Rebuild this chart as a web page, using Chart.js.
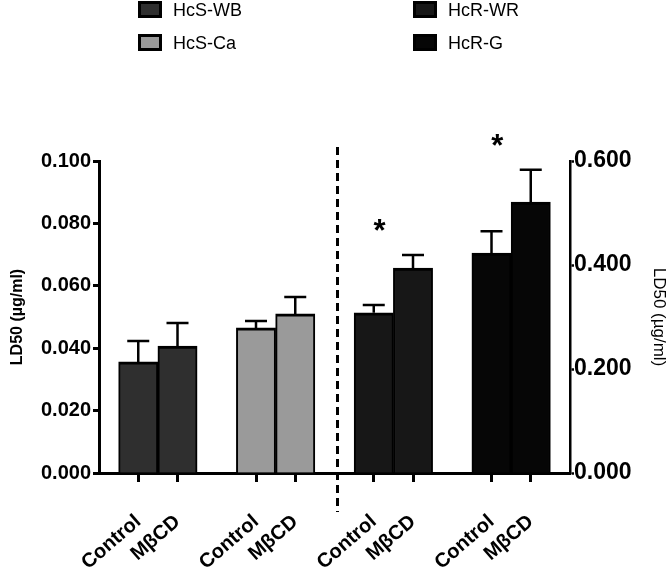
<!DOCTYPE html>
<html>
<head>
<meta charset="utf-8">
<script src="https://cdn.jsdelivr.net/npm/chart.js@4/dist/chart.umd.min.js"></script>
<style>
  html, body { margin: 0; padding: 0; background: #fff; }
  #wrap { position: relative; width: 669px; height: 585px; }
  #chart { position: absolute; left: 0; top: 0; }
  .lg { position: absolute; font: 18px "Liberation Sans", Arial, sans-serif; color: #000; height: 18px; }
  .lg i { position: absolute; left: 0; top: 0; width: 24px; height: 17px; box-sizing: border-box; border: 3px solid #000; }
  .lg span { position: absolute; left: 35px; top: -1px; line-height: 20px; white-space: nowrap; }
</style>
</head>
<body>
<div id="wrap">
  <canvas id="chart" width="669" height="585"></canvas>
  <div class="lg" style="left:138px;top:1px"><i style="background:#2f2f2f"></i><span>HcS-WB</span></div>
  <div class="lg" style="left:138px;top:34px"><i style="background:#9a9a9a"></i><span>HcS-Ca</span></div>
  <div class="lg" style="left:413px;top:1px"><i style="background:#171717"></i><span>HcR-WR</span></div>
  <div class="lg" style="left:413px;top:34px"><i style="background:#060606"></i><span>HcR-G</span></div>
</div>
<script>
// categories (blank entries are the margins and the gaps between groups)
const labels = ['', 'Control', 'MβCD', '', 'Control', 'MβCD', '', 'Control', 'MβCD', '', 'Control', 'MβCD', ''];
const barColors = [null, '#2f2f2f', '#2f2f2f', null, '#9a9a9a', '#9a9a9a', null, '#171717', '#171717', null, '#060606', '#060606', null];

// HcS strains, left axis
const hcsValues = [null, 0.0356, 0.0407, null, 0.0465, 0.0510, null, null, null, null, null, null, null];
const hcsErrors = [null, 0.0067, 0.0074, null, 0.0022, 0.0054, null, null, null, null, null, null, null];
// HcR strains, right axis
const hcrValues = [null, null, null, null, null, null, null, 0.308, 0.394, null, 0.423, 0.521, null];
const hcrErrors = [null, null, null, null, null, null, null, 0.015, 0.025, null, 0.042, 0.062, null];
// significance marks (right axis values)
const starValues = [null, null, null, null, null, null, null, 0.478, null, null, 0.643, null, null];

const leftTicks = [0, 0.02, 0.04, 0.06, 0.08, 0.1];
const rightTicks = [0, 0.2, 0.4, 0.6];

const FONT = '"Liberation Sans", Arial, sans-serif';

const extras = {
    id: 'extras',
    afterDatasetsDraw(chart) {
        const ctx = chart.ctx;
        const area = chart.chartArea;
        const x = chart.scales.x;
        const catW = x.getPixelForValue(1) - x.getPixelForValue(0);

        // error bars
        ctx.save();
        ctx.strokeStyle = '#000';
        ctx.lineWidth = 2.5;
        [[0, hcsErrors], [1, hcrErrors]].forEach(([di, errs]) => {
            const meta = chart.getDatasetMeta(di);
            const ys = chart.scales[meta.yAxisID];
            const vals = chart.data.datasets[di].data;
            meta.data.forEach((bar, i) => {
                if (vals[i] == null || errs[i] == null) return;
                const top = ys.getPixelForValue(vals[i] + errs[i]);
                ctx.beginPath();
                ctx.moveTo(bar.x, bar.y);
                ctx.lineTo(bar.x, top);
                ctx.moveTo(bar.x - 11, top);
                ctx.lineTo(bar.x + 11, top);
                ctx.stroke();
            });
        });

        // dashed separator between the two strain groups
        const sep = x.getPixelForValue(6) + 3;
        ctx.setLineDash([8, 5]);
        ctx.lineWidth = 3;
        ctx.beginPath();
        ctx.moveTo(sep, area.top - 14);
        ctx.lineTo(sep, area.bottom + 39);
        ctx.stroke();
        ctx.setLineDash([]);

        // asterisks
        ctx.fillStyle = '#000';
        ctx.font = 'bold 31px ' + FONT;
        ctx.textAlign = 'center';
        ctx.textBaseline = 'alphabetic';
        const y2 = chart.scales.y2;
        starValues.forEach((v, i) => {
            if (v == null) return;
            ctx.fillText('*', x.getPixelForValue(i) + 0.15 * catW, y2.getPixelForValue(v) + 17);
        });
        ctx.restore();
    }
};

new Chart(document.getElementById('chart'), {
    type: 'bar',
    data: {
        labels,
        datasets: [
            {
                label: 'HcS',
                data: hcsValues,
                yAxisID: 'y',
                backgroundColor: barColors,
                borderColor: '#000',
                borderWidth: { top: 3, left: 2, right: 2, bottom: 0 },
                borderSkipped: false,
                grouped: false,
                barPercentage: 1,
                categoryPercentage: 1
            },
            {
                label: 'HcR',
                data: hcrValues,
                yAxisID: 'y2',
                backgroundColor: barColors,
                borderColor: '#000',
                borderWidth: { top: 3, left: 2, right: 2, bottom: 0 },
                borderSkipped: false,
                grouped: false,
                barPercentage: 1,
                categoryPercentage: 1
            }
        ]
    },
    options: {
        responsive: false,
        animation: false,
        events: [],
        layout: { padding: { top: 161, left: 0, right: 0, bottom: 0 } },
        plugins: { legend: { display: false }, tooltip: { enabled: false } },
        scales: {
            x: {
                offset: false,
                afterFit: s => { s.height = 112; },
                border: { display: true, color: '#000', width: 3 },
                grid: {
                    offset: false,
                    drawOnChartArea: false,
                    drawTicks: true,
                    tickLength: 9,
                    tickWidth: 3,
                    tickColor: c => labels[c.index] ? '#000' : 'rgba(0,0,0,0)'
                },
                ticks: {
                    autoSkip: false,
                    minRotation: 41,
                    maxRotation: 41,
                    padding: 28,
                    color: '#000',
                    font: { family: FONT, weight: 'bold', size: 20 }
                }
            },
            y: {
                position: 'left',
                min: 0,
                max: 0.1,
                afterFit: s => { s.width = 99; },
                afterBuildTicks: s => { s.ticks = leftTicks.map(v => ({ value: v })); },
                border: { display: true, color: '#000', width: 3 },
                grid: { drawOnChartArea: false, drawTicks: true, tickLength: 6, tickWidth: 3, tickColor: '#000' },
                ticks: {
                    padding: 2,
                    color: '#000',
                    font: { family: FONT, weight: 'bold', size: 20 },
                    callback: v => Number(v).toFixed(3)
                },
                title: {
                    display: true,
                    text: 'LD50 (µg/ml)',
                    color: '#000',
                    padding: { top: 8, bottom: 0 },
                    font: { family: FONT, weight: 'bold', size: 16 }
                }
            },
            y2: {
                position: 'right',
                min: 0,
                max: 0.6,
                afterFit: s => { s.width = 99; },
                afterBuildTicks: s => { s.ticks = rightTicks.map(v => ({ value: v })); },
                border: { display: true, color: '#000', width: 2.5 },
                grid: { drawOnChartArea: false, drawTicks: true, tickLength: 4, tickWidth: 2.5, tickColor: '#000' },
                ticks: {
                    padding: 0,
                    color: '#000',
                    font: { family: FONT, weight: 'bold', size: 23 },
                    callback: v => Number(v).toFixed(3)
                },
                title: {
                    display: true,
                    text: 'LD50 (µg/ml)',
                    color: '#000',
                    padding: { top: 0, bottom: 3 },
                    font: { family: FONT, weight: 'normal', size: 17 }
                }
            }
        }
    },
    plugins: [extras]
});
</script>
</body>
</html>
